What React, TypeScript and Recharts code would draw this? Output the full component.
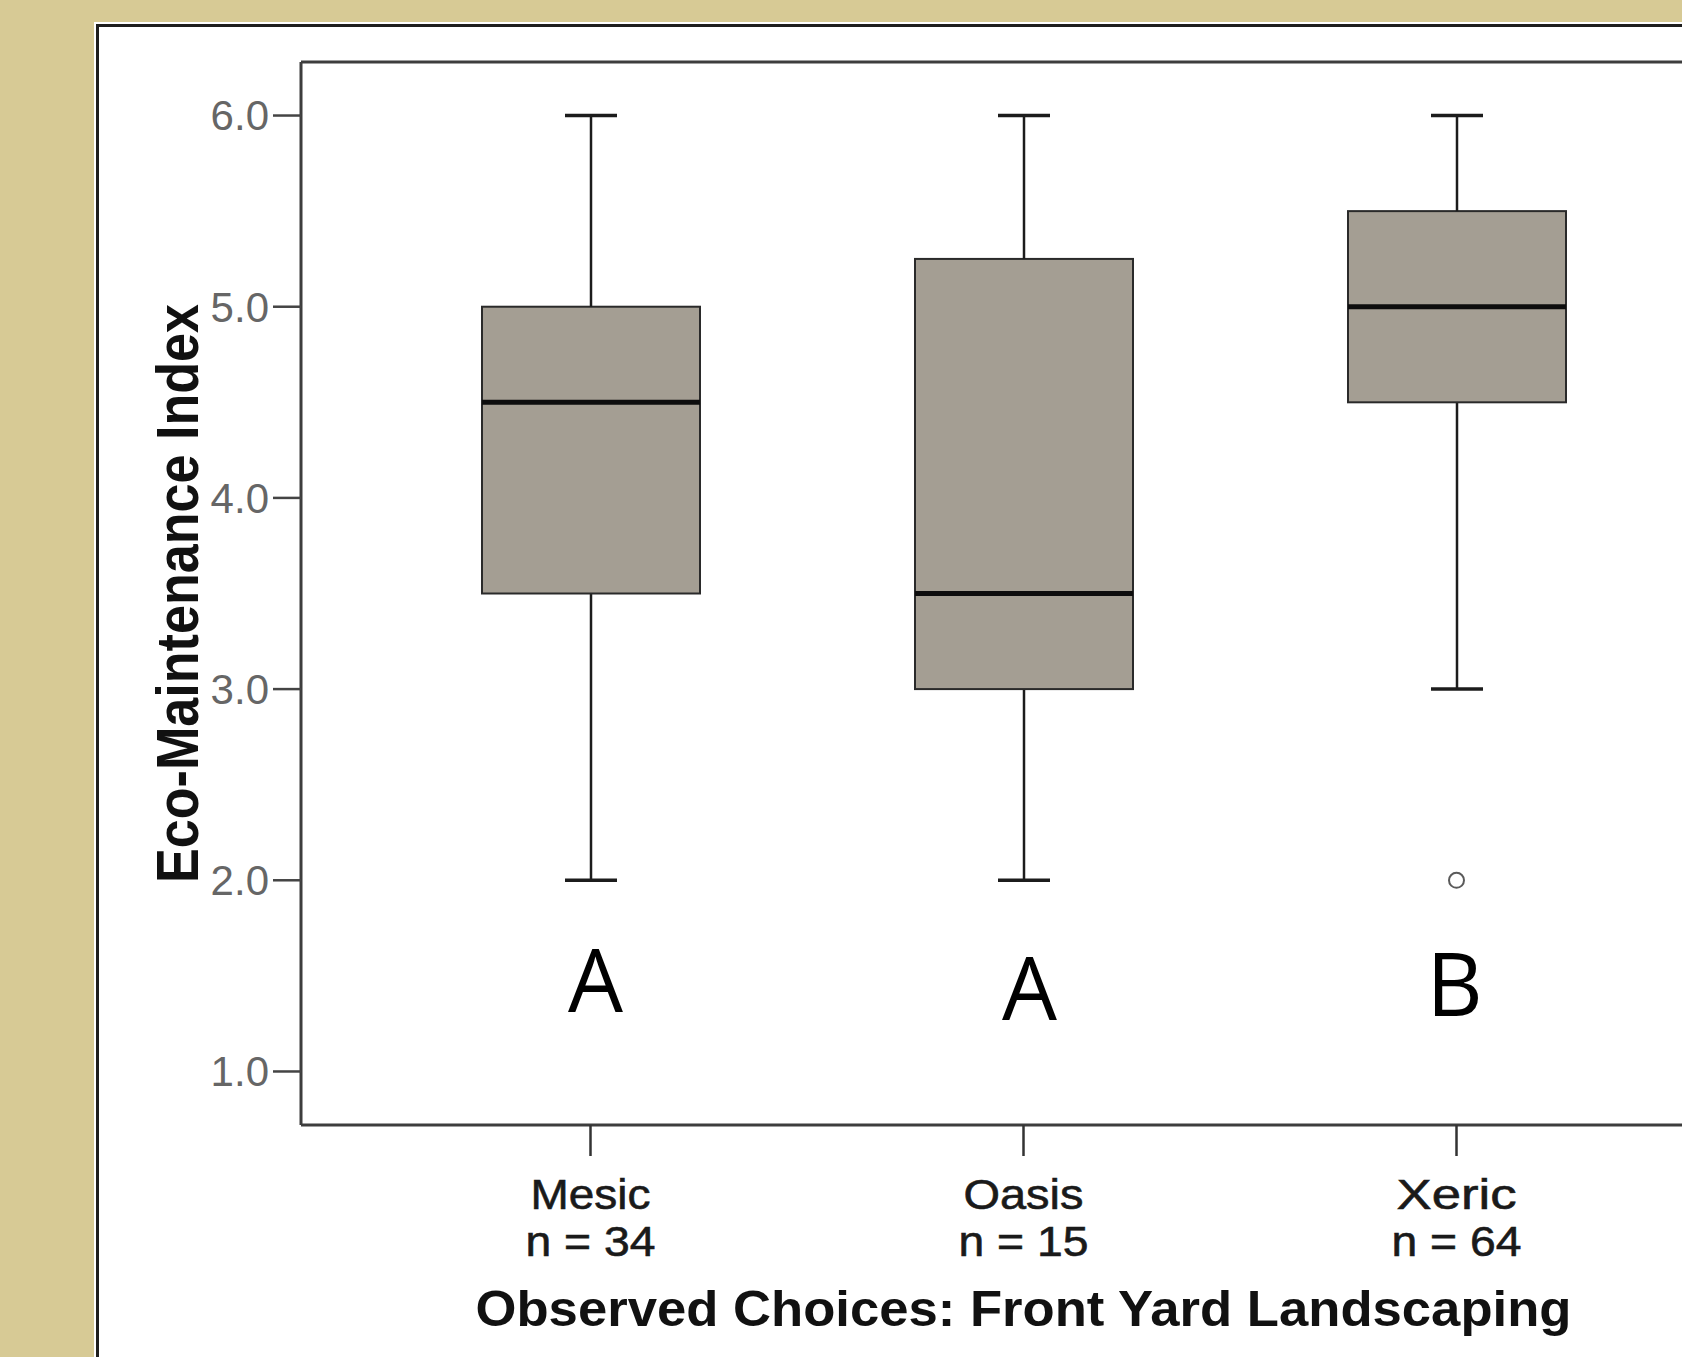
import React from "react";
import { ComposedChart, Bar, Scatter, XAxis, YAxis } from "recharts";

// box plot summaries
const categories = ["Mesic", "Oasis", "Xeric"];
const sampleSizes = [34, 15, 64];
const whiskerLow = [2.0, 2.0, 3.0];
const quartile1 = [3.5, 3.0, 4.5];
const medians = [4.5, 3.5, 5.0];
const quartile3 = [5.0, 5.25, 5.5];
const whiskerHigh = [6.0, 6.0, 6.0];
const outliers = [null, null, 2.0];
const groupLetters = ["A", "A", "B"];
const letterLevels = [1.31, 1.27, 1.29];
const yTicks = [1, 2, 3, 4, 5, 6];

const letterNudge = [5, 6, -2];

const data = categories.map((name, i) => ({
  name,
  n: sampleSizes[i],
  base: whiskerLow[i],
  lowWhisker: quartile1[i] - whiskerLow[i],
  lowBox: medians[i] - quartile1[i],
  highBox: quartile3[i] - medians[i],
  highWhisker: whiskerHigh[i] - quartile3[i],
  outlier: outliers[i],
  letter: groupLetters[i],
  letterY: letterLevels[i],
  idx: i,
}));

const INK = "#1c1c1c";
const FRAME = { stroke: "#3d3d3d", strokeWidth: 3 };
const BOX_FILL = "#a49e93";
const SANS = "'Liberation Sans', Arial, sans-serif";

function LowWhiskerShape(p: any) {
  const cx = p.x + p.width / 2;
  const yb = p.y + p.height;
  return (
    <g>
      <line x1={cx} x2={cx} y1={p.y} y2={yb} stroke={INK} strokeWidth={2.5} />
      <line x1={cx - 26} x2={cx + 26} y1={yb} y2={yb} stroke={INK} strokeWidth={3.5} />
    </g>
  );
}

function HighWhiskerShape(p: any) {
  const cx = p.x + p.width / 2;
  return (
    <g>
      <line x1={cx} x2={cx} y1={p.y} y2={p.y + p.height} stroke={INK} strokeWidth={2.5} />
      <line x1={cx - 26} x2={cx + 26} y1={p.y} y2={p.y} stroke={INK} strokeWidth={3.5} />
    </g>
  );
}

function BoxShape(p: any) {
  return <rect x={p.x} y={p.y} width={p.width} height={p.height} fill={BOX_FILL} stroke="#2a2a2a" strokeWidth={2} />;
}

function UpperBoxShape(p: any) {
  const yb = p.y + p.height;
  return (
    <g>
      <rect x={p.x} y={p.y} width={p.width} height={p.height} fill={BOX_FILL} stroke="#2a2a2a" strokeWidth={2} />
      <line x1={p.x} x2={p.x + p.width} y1={yb} y2={yb} stroke="#0d0d0d" strokeWidth={5} />
    </g>
  );
}

function OutlierShape(p: any) {
  if (p.payload == null || p.payload.outlier == null) return <g />;
  return <circle cx={p.cx} cy={p.cy} r={7.5} fill="#fff" stroke="#5a5a5a" strokeWidth={2} />;
}

function LetterShape(p: any) {
  if (p.payload == null) return <g />;
  return (
    <text
      x={p.cx + letterNudge[p.payload.idx]}
      y={p.cy}
      textAnchor="middle"
      fontFamily="'Open Sans', sans-serif"
      fontSize={87}
      fill="#000"
    >
      {p.payload.letter}
    </text>
  );
}

function CategoryTick(p: any) {
  const row = data.find((d) => d.name === p.payload.value);
  const common = {
    textAnchor: "middle" as const,
    fontFamily: SANS,
    fontSize: 42,
    fill: "#1a1a1a",
    stroke: "#1a1a1a",
    strokeWidth: 0.6,
  };
  return (
    <g>
      <text x={p.x} y={p.y + 53} {...common} textLength={p.payload.value.length * 24} lengthAdjust="spacingAndGlyphs">
        {p.payload.value}
      </text>
      <text x={p.x} y={p.y + 100} {...common} textLength={130} lengthAdjust="spacingAndGlyphs">
        {`n = ${row ? row.n : ""}`}
      </text>
    </g>
  );
}

export default function App() {
  return (
    <div
      style={{
        position: "fixed",
        left: 0,
        top: 0,
        width: 1682,
        height: 1357,
        overflow: "hidden",
        background: "#d7ca95",
      }}
    >
      <div
        style={{
          position: "absolute",
          left: 96,
          top: 24,
          width: 1700,
          height: 1400,
          background: "#fff",
          borderLeft: "3px solid #1e1e1e",
          borderTop: "3px solid #1e1e1e",
          boxShadow: "-2px -2px 0 0 #ffffff",
        }}
      />
      <div style={{ position: "absolute", left: 0, top: 0 }}>
        <ComposedChart
          width={1766}
          height={1357}
          data={data}
          margin={{ top: 61, right: 20, bottom: 132, left: 181 }}
        >
          <XAxis
            xAxisId="frameTop"
            dataKey="name"
            type="category"
            orientation="top"
            height={1}
            padding={{ left: 73, right: 73 }}
            axisLine={FRAME}
            tick={false}
            tickLine={false}
          />
          <XAxis
            dataKey="name"
            type="category"
            interval={0}
            height={100}
            padding={{ left: 73, right: 73 }}
            axisLine={FRAME}
            tickSize={31}
            tickMargin={0}
            tickLine={{ stroke: "#333", strokeWidth: 2.5 }}
            tick={<CategoryTick />}
            label={{
              content: (lp: any) => {
                const vb = lp.viewBox || {};
                return (
                  <text
                    x={vb.x + vb.width / 2}
                    y={vb.y + 201}
                    textAnchor="middle"
                    fontFamily={SANS}
                    fontWeight="bold"
                    fontSize={50}
                    fill="#111"
                    textLength={1096}
                    lengthAdjust="spacingAndGlyphs"
                  >
                    Observed Choices: Front Yard Landscaping
                  </text>
                );
              },
            }}
          />
          <YAxis
            type="number"
            domain={[0.72, 6.28]}
            ticks={yTicks}
            allowDataOverflow
            width={120}
            axisLine={FRAME}
            tickSize={28}
            tickMargin={4}
            tickLine={{ stroke: "#444", strokeWidth: 2.5 }}
            tickFormatter={(v: number) => v.toFixed(1)}
            tick={{ fontFamily: SANS, fontSize: 42, fill: "#666" }}
            label={{
              content: (lp: any) => {
                const vb = lp.viewBox || {};
                const cx = vb.x + 17;
                const cy = vb.y + vb.height / 2;
                return (
                  <text
                    x={cx}
                    y={cy}
                    textAnchor="middle"
                    transform={`rotate(-90, ${cx}, ${cy})`}
                    fontFamily={SANS}
                    fontWeight="bold"
                    fontSize={60}
                    fill="#111"
                    textLength={579}
                    lengthAdjust="spacingAndGlyphs"
                  >
                    Eco-Maintenance Index
                  </text>
                );
              },
            }}
          />
          <Bar dataKey="base" stackId="box" fill="none" barSize={218} isAnimationActive={false} />
          <Bar dataKey="lowWhisker" stackId="box" barSize={218} shape={LowWhiskerShape} isAnimationActive={false} />
          <Bar dataKey="lowBox" stackId="box" barSize={218} shape={BoxShape} isAnimationActive={false} />
          <Bar dataKey="highBox" stackId="box" barSize={218} shape={UpperBoxShape} isAnimationActive={false} />
          <Bar dataKey="highWhisker" stackId="box" barSize={218} shape={HighWhiskerShape} isAnimationActive={false} />
          <Scatter xAxisId="frameTop" dataKey="outlier" shape={OutlierShape} isAnimationActive={false} />
          <Scatter xAxisId="frameTop" dataKey="letterY" shape={LetterShape} isAnimationActive={false} />
        </ComposedChart>
      </div>
    </div>
  );
}
